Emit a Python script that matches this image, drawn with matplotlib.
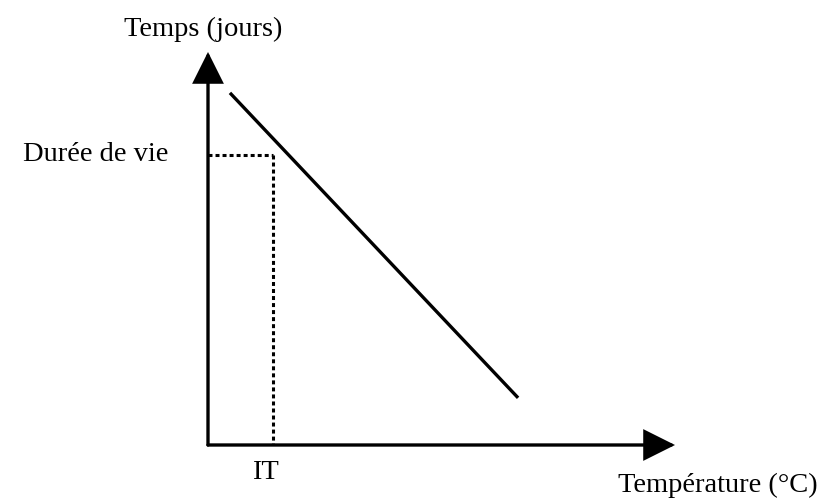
import matplotlib
matplotlib.use("Agg")
import matplotlib.pyplot as plt

# Schematic: storage time decreasing with temperature
temperature = [0.47, 6.64]      # line end points (arbitrary units)
time_days = [8.96, 1.20]
it_value = 1.39                  # temperature reading "IT"
shelf_life = 7.38                # time reading "Durée de vie"

x_label = "Température (°C)"
y_label = "Temps (jours)"
shelf_label = "Durée de vie"
it_label = "IT"

W, H = 830, 504
fig = plt.figure(figsize=(W / 100, H / 100), dpi=100)
plt.rcParams['font.family'] = ['Liberation Serif', 'DejaVu Serif']

x0, y0 = 208, 445   # origin in pixels
x1, y1 = 675, 52    # arrow tips in pixels
ax = fig.add_axes([x0 / W, (H - y0) / H, (x1 - x0) / W, (y0 - y1) / H])
ax.set_xlim(0, 10)
ax.set_ylim(0, 10)
ax.set_axis_off()

arrow = dict(arrowstyle="-|>,head_length=1.9,head_width=0.95",
             mutation_scale=10, lw=2.4, color="black",
             shrinkA=0, shrinkB=0, joinstyle="miter")
ax.annotate("", xy=(10, 0), xytext=(0, 0), arrowprops=arrow,
            annotation_clip=False)
ax.annotate("", xy=(0, 10), xytext=(0, 0), arrowprops=arrow,
            annotation_clip=False)

ax.plot(temperature, time_days, color="black", lw=2.4,
        solid_capstyle="butt", clip_on=False)

dots = dict(color="black", lw=2.2, linestyle=(0, (1.3, 1.0)), clip_on=False)
ax.plot([0, it_value], [shelf_life, shelf_life], **dots)
ax.plot([it_value, it_value], [shelf_life, 0], **dots)

fs = 20.5
ax.text(-0.85, shelf_life, shelf_label, ha="right", va="center",
        fontsize=fs, color="black")
ax.text(it_value - 0.17, -0.7, it_label, ha="center", va="center",
        fontsize=fs, color="black")
fig.text(718 / W, 1 - 485 / H, x_label, ha="center", va="center",
         fontsize=fs, color="black")
fig.text(203 / W, 1 - 29 / H, y_label, ha="center", va="center",
         fontsize=fs, color="black")

fig.savefig("out.png", dpi=100, facecolor="white")
